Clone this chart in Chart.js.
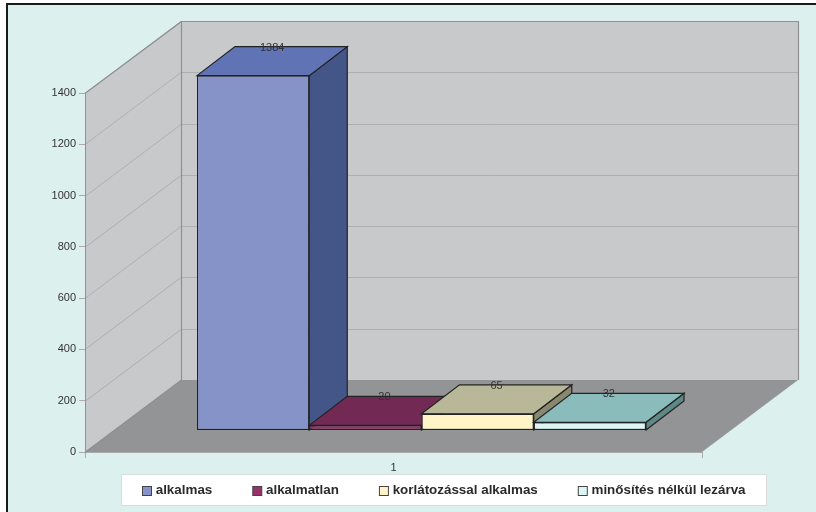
<!DOCTYPE html>
<html>
<head>
<meta charset="utf-8">
<title>alkalmas</title>
<script src="https://cdn.jsdelivr.net/npm/chart.js@4"></script>
<style>
  html, body { margin: 0; background: #fff; }
  canvas { display: block; }
</style>
</head>
<body>
<canvas id="chart" width="816" height="512"></canvas>
<script>
// Values
const categories = ['1'];
const seriesNames = ['alkalmas', 'alkalmatlan', 'korlátozással alkalmas', 'minősítés nélkül lezárva'];
const seriesValues = [1384, 20, 65, 32];
const frontColors = ['#8593c9', '#953369', '#fff3c8', '#dcf5f5'];
const topColors = ['#5f73b5', '#722a55', '#b8b899', '#8bbcbc'];
const sideColors = ['#445587', '#5a2142', '#88876f', '#5f8888'];

const FONT = 'Arial, "Liberation Sans", sans-serif';
const TEXT = '#333333';
const EDGE = '#222222';
const WALL = { dx: 96, dy: 72 };       // depth of the whole box
const BAR = { dx: 38, dy: 29 };        // depth of a bar
const SHIFT = { dx: 28, dy: 21.5 };    // bars stand this far inside the floor

function poly(ctx, pts, fill, stroke, lw) {
  ctx.beginPath();
  pts.forEach((p, i) => i ? ctx.lineTo(p[0], p[1]) : ctx.moveTo(p[0], p[1]));
  ctx.closePath();
  if (fill) { ctx.fillStyle = fill; ctx.fill(); }
  if (stroke) { ctx.strokeStyle = stroke; ctx.lineWidth = lw || 1; ctx.stroke(); }
}

// Frame, legend panel, walls and floor behind the bars
const box3d = {
  id: 'box3d',
  afterLayout(chart) {
    // the legend is wider than the plot, so it is re-fitted to the whole canvas
    const leg = chart.legend;
    const pad = leg.options.labels.padding;
    leg.maxWidth = 816;
    leg.left = 143 - pad;
    leg.right = 816;
    leg.top = 491 - 7 - pad;
    leg.fit();
  },
  beforeDraw(chart) {
    const ctx = chart.ctx;
    const { left, right, top, bottom } = chart.chartArea;
    const y = chart.scales.y;
    ctx.save();
    ctx.fillStyle = '#ffffff';
    ctx.fillRect(0, 0, 816, 512);
    ctx.fillStyle = '#dcf0ee';
    ctx.fillRect(7, 4, 809, 508);
    // frame is only on the top and left
    ctx.fillStyle = '#1a1a1a';
    ctx.fillRect(6, 3, 810, 2);
    ctx.fillRect(6, 3, 2, 509);

    // legend panel
    ctx.fillStyle = '#ffffff';
    ctx.strokeStyle = '#d8dcdc';
    ctx.lineWidth = 1;
    ctx.fillRect(121.5, 474.5, 645, 31);
    ctx.strokeRect(121.5, 474.5, 645, 31);

    const bx = WALL.dx, by = WALL.dy;
    const wallLine = '#8f9092', gridLine = '#aeafb1';
    poly(ctx, [[left, top], [left + bx, top - by], [left + bx, bottom - by], [left, bottom]], '#c8c9cb');
    ctx.fillStyle = '#c8c9cb';
    ctx.fillRect(left + bx, top - by, right - left, bottom - top);
    poly(ctx, [[left, bottom], [right, bottom], [right + bx, bottom - by], [left + bx, bottom - by]], '#939496');

    // gridlines run along the back wall and down the left wall
    ctx.strokeStyle = gridLine;
    ctx.lineWidth = 1;
    y.ticks.forEach(t => {
      if (t.value === 0) return;
      const py = Math.round(y.getPixelForValue(t.value)) + 0.5;
      ctx.beginPath();
      ctx.moveTo(left, py);
      ctx.lineTo(left + bx, py - by);
      ctx.lineTo(right + bx, py - by);
      ctx.stroke();
    });
    ctx.strokeStyle = wallLine;
    ctx.lineWidth = 1.2;
    ctx.beginPath();
    ctx.moveTo(left + 0.5, bottom);
    ctx.lineTo(left + bx + 0.5, bottom - by);
    ctx.lineTo(left + bx + 0.5, top - by + 0.5);
    ctx.lineTo(right + bx + 0.5, top - by + 0.5);
    ctx.lineTo(right + bx + 0.5, bottom - by);
    ctx.moveTo(left + 0.5, top);
    ctx.lineTo(left + bx + 0.5, top - by + 0.5);
    ctx.stroke();
    ctx.restore();
  },
  // bars are painted left to right so each one overlaps the one before it
  beforeDatasetsDraw(chart) {
    const ctx = chart.ctx;
    ctx.save();
    ctx.translate(SHIFT.dx, -SHIFT.dy);
    seriesNames.forEach((name, i) => {
      const el = chart.getDatasetMeta(i).data[0];
      const l = el.x - el.width / 2, r = el.x + el.width / 2;
      const t = el.y, b = el.base;
      poly(ctx, [[r, t], [r + BAR.dx, t - BAR.dy], [r + BAR.dx, b - BAR.dy], [r, b]], sideColors[i], EDGE, 1.2);
      poly(ctx, [[l, t], [l + BAR.dx, t - BAR.dy], [r + BAR.dx, t - BAR.dy], [r, t]], topColors[i], EDGE, 1.2);
      el.draw(ctx);
    });
    ctx.restore();
  },
  beforeDatasetDraw() {
    return false;   // already painted above
  },
  afterDraw(chart) {
    const ctx = chart.ctx;
    ctx.save();
    // value labels sit on the back edge of each bar
    ctx.font = '11px ' + FONT;
    ctx.fillStyle = TEXT;
    ctx.textAlign = 'center';
    ctx.textBaseline = 'middle';
    seriesValues.forEach((v, i) => {
      const el = chart.getDatasetMeta(i).data[0];
      ctx.fillText(String(v), el.x + SHIFT.dx + BAR.dx / 2, el.y - SHIFT.dy - BAR.dy + 1);
    });
    // legend swatches
    chart.legend.legendHitBoxes.forEach((h, n) => {
      const i = chart.legend.legendItems[n].datasetIndex;
      ctx.fillStyle = frontColors[i];
      ctx.strokeStyle = '#444444';
      ctx.lineWidth = 1;
      ctx.fillRect(h.left - 0.5, h.top + 2.5, 9, 9);
      ctx.strokeRect(h.left - 0.5, h.top + 2.5, 9, 9);
    });
    ctx.restore();
  }
};

new Chart(document.getElementById('chart'), {
  type: 'bar',
  data: {
    labels: categories,
    datasets: seriesNames.map((name, i) => ({
      label: name,
      data: [seriesValues[i]],
      backgroundColor: frontColors[i],
      borderColor: EDGE,
      borderWidth: 1.2,
      borderSkipped: false
    }))
  },
  options: {
    responsive: false,
    animation: false,
    layout: { padding: { left: 0, right: 114, top: 93, bottom: 0 } },
    datasets: { bar: { categoryPercentage: 0.7277, barPercentage: 1 } },
    plugins: {
      tooltip: { enabled: false },
      legend: {
        position: 'bottom',
        align: 'start',
        maxHeight: 30,
        labels: {
          boxWidth: 6,
          boxHeight: 6,
          padding: 41,
          color: '#2a2a2a',
          font: { family: FONT, size: 13.4, weight: 'bold' },
          generateLabels(chart) {
            return Chart.defaults.plugins.legend.labels.generateLabels(chart).map(item => ({
              ...item,
              fillStyle: 'rgba(0,0,0,0)',
              strokeStyle: 'rgba(0,0,0,0)',
              lineWidth: 0
            }));
          }
        }
      }
    },
    scales: {
      x: {
        offset: true,
        afterFit(s) { s.height = 30; },
        border: { display: true, color: '#a9aaac' },
        grid: { offset: true, drawOnChartArea: false, tickLength: 6, color: '#a9aaac' },
        ticks: { color: TEXT, font: { family: FONT, size: 11 }, padding: 3 }
      },
      y: {
        min: 0,
        max: 1400,
        afterFit(s) { s.width = 85; },
        border: { display: true, color: '#8f9092' },
        grid: { drawOnChartArea: false, tickLength: 6, color: '#a9aaac' },
        ticks: { stepSize: 200, color: TEXT, font: { family: FONT, size: 11 }, padding: 3, callback: v => String(v) }
      }
    }
  },
  plugins: [box3d]
});
</script>
</body>
</html>
